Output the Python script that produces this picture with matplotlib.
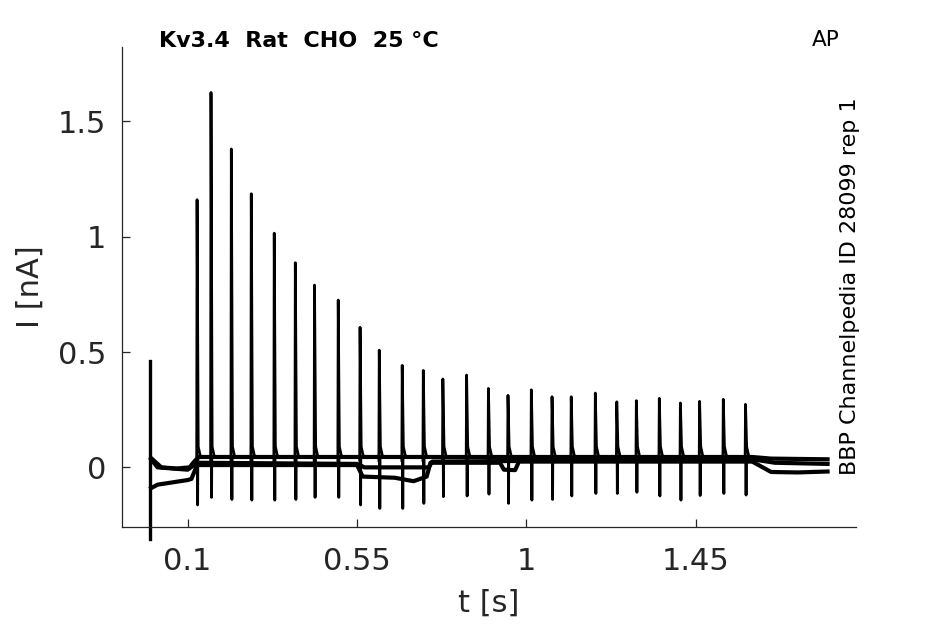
import numpy as np
import matplotlib
matplotlib.use("Agg")
import matplotlib.pyplot as plt

# AP-clamp recording, Kv3.4
spike_t = [0.125, 0.162, 0.216, 0.269, 0.330, 0.386, 0.437, 0.500, 0.558,
           0.609, 0.670, 0.726, 0.778, 0.841, 0.899, 0.951, 1.013, 1.068,
           1.119, 1.183, 1.240, 1.292, 1.353, 1.409, 1.460, 1.523, 1.582]
spike_peak = [1.16, 1.625, 1.38, 1.186, 1.015, 0.887, 0.79, 0.725, 0.607,
              0.508, 0.442, 0.42, 0.383, 0.40, 0.342, 0.312, 0.336, 0.306,
              0.306, 0.322, 0.284, 0.289, 0.299, 0.279, 0.286, 0.295, 0.273]
spike_trough = [-0.163, -0.13, -0.139, -0.142, -0.142, -0.139, -0.13, -0.13,
                -0.163, -0.178, -0.178, -0.156, -0.127, -0.124, -0.116,
                -0.156, -0.142, -0.139, -0.124, -0.113, -0.113, -0.108,
                -0.124, -0.142, -0.122, -0.113, -0.12]

# stimulus artifact at t = 0
art_t = 0.0
art_peak = 0.46
art_trough = -0.312

# holding current of the three sweeps (knots)
base_a_t = [0.003, 0.02, 0.03, 0.07, 0.105, 0.12, 0.13, 0.55, 1.0, 1.60, 1.65, 1.80]
base_a_i = [0.04, 0.015, 0.0, -0.005, 0.0, 0.03, 0.045, 0.045, 0.045, 0.045, 0.038, 0.035]

base_b_t = [0.003, 0.02, 0.06, 0.10, 0.11, 0.125, 0.55, 0.565, 0.65, 0.70,
            0.735, 0.745, 0.93, 0.94, 0.97, 0.98, 1.60, 1.65, 1.72, 1.80]
base_b_i = [-0.09, -0.075, -0.065, -0.055, -0.05, 0.01, 0.01, -0.04, -0.045,
            -0.06, -0.04, 0.02, 0.02, -0.01, -0.012, 0.025, 0.025, -0.02,
            -0.022, -0.018]

base_c_t = [0.003, 0.02, 0.10, 0.125, 0.55, 0.57, 0.74, 0.75, 1.60, 1.66, 1.80]
base_c_i = [0.035, 0.0, -0.01, 0.02, 0.015, 0.0, 0.0, 0.025, 0.035, 0.02, 0.015]

xticks = [0.1, 0.55, 1, 1.45]
xticklabels = ["0.1", "0.55", "1", "1.45"]
yticks = [0, 0.5, 1, 1.5]
yticklabels = ["0", "0.5", "1", "1.5"]

grey = "#262626"
plt.rcParams["font.family"] = "DejaVu Sans"

fig = plt.figure(figsize=(9.45, 6.24), dpi=100)
ax = fig.add_axes([0.129, 0.156, 0.777, 0.769])

for bt, bi in [(base_b_t, base_b_i), (base_c_t, base_c_i), (base_a_t, base_a_i)]:
    ax.plot(bt, bi, color="black", lw=3.0, solid_joinstyle="round")

# spikes: fast rise, short tail, then the negative dip
for t, pk, tr in zip(spike_t, spike_peak, spike_trough):
    ax.plot([t - 0.001, t, t + 0.003, t + 0.009],
            [0.03, pk, 0.09, 0.045], color="black", lw=2.0)
    ax.plot([t + 0.001, t + 0.0015, t + 0.002],
            [0.03, tr, 0.03], color="black", lw=2.0)

ax.plot([art_t, art_t], [art_trough, art_peak], color="black", lw=2.4,
        clip_on=False)

ax.set_xlim(-0.0747, 1.876)
ax.set_ylim(-0.257, 1.823)
ax.set_xticks(xticks)
ax.set_xticklabels(xticklabels)
ax.set_yticks(yticks)
ax.set_yticklabels(yticklabels)

for s in ["top", "right"]:
    ax.spines[s].set_visible(False)
for s in ["left", "bottom"]:
    ax.spines[s].set_color(grey)
    ax.spines[s].set_linewidth(0.9)

ax.tick_params(direction="in", length=5.5, width=0.9, colors=grey,
               labelsize=22)
ax.tick_params(axis="x", pad=15)
ax.tick_params(axis="y", pad=11.5)

ax.set_xlabel("t [s]", fontsize=22, color=grey, labelpad=9)
ax.set_ylabel("I [nA]", fontsize=22, color=grey, labelpad=9)

fig.text(159 / 945, 1 - 46.7 / 624, "Kv3.4  Rat  CHO  25 °C",
         fontsize=16, fontweight="bold", color="black", va="baseline")
fig.text(811.5 / 945, 1 - 46.5 / 624, "AP", fontsize=15.5, color="black",
         va="baseline")
fig.text(850 / 945, 1 - 475 / 624, "BBP Channelpedia ID 28099 rep 1",
         fontsize=16, color="black", rotation=90, ha="center", va="bottom")

fig.savefig("out.png", dpi=100)
